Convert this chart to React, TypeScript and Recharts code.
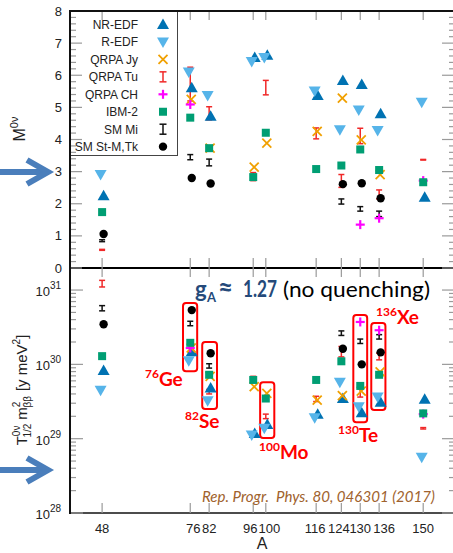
import React from 'react';
import { ScatterChart, Scatter, XAxis, YAxis, ErrorBar, ReferenceArea, Legend } from 'recharts';

// mass numbers of the nuclei on the x axis
const A_VALUES = [48, 76, 82, 96, 100, 116, 124, 130, 136, 150];

// upper panel: nuclear matrix elements M^0v
const NR_EDF_M = [2.25, 5.61, 4.72, 6.55, 6.62, 5.37, 5.84, 5.71, 4.8, 2.2];
const R_EDF_M = [2.91, 6.1, 5.37, 6.43, 6.55, 5.51, 4.3, 4.92, 4.28, 5.16];
const QRPA_JY_M = [null, 5.25, 3.73, 3.14, 3.89, 4.25, 5.29, 3.99, 2.91, null];
const QRPA_TU_M_LO = [0.55, 5.2, 4.61, 2.72, 5.39, 4.02, 2.51, 3.87, 2.15, 3.36];
const QRPA_TU_M_HI = [0.58, 6.25, 5.02, 2.97, 5.84, 4.36, 2.91, 4.35, 2.43, 3.38];
const QRPA_CH_M = [null, 5.09, null, null, null, null, null, 1.35, 1.55, 2.72];
const IBM2_M = [1.74, 4.68, 3.73, 2.83, 4.21, 3.08, 3.19, 3.69, 3.05, 2.67];
const SM_MI_M_LO = [0.82, 3.37, 3.18, null, null, null, 1.99, 1.77, 1.6, null];
const SM_MI_M_HI = [0.88, 3.53, 3.39, null, null, null, 2.15, 1.91, 1.77, null];
const SM_STM_M = [1.06, 2.8, 2.63, null, null, null, 2.61, 2.64, 2.17, null];

// lower panel: T1/2 * m_bb^2 [y meV^2]
const NR_EDF_T = [8.3e29, 1.48e30, 4.8e29, 1.17e29, 1.55e29, 2.14e29, 3.47e29, 2.24e29, 3.09e29, 3.39e29];
const R_EDF_T = [4.47e29, 1.12e30, 3.24e29, 1.12e29, 1.38e29, 1.91e29, 5.75e29, 2.69e29, 3.63e29, 5.62e28];
const QRPA_JY_T = [null, 1.66e30, 6.9e29, 5.0e29, 4.07e29, 3.31e29, 3.8e29, 4.37e29, 7.9e29, null];
const QRPA_TU_T_LO = [1.1e31, null, 4.0e29, 5.75e29, 1.86e29, 3.16e29, 1.26e30, 3.63e29, 1.15e30, 1.35e29];
const QRPA_TU_T_HI = [1.35e31, null, 4.6e29, 6.9e29, 2.14e29, 3.72e29, 1.74e30, 4.68e29, 1.41e30, 1.41e29];
const QRPA_CH_T = [null, 1.66e30, null, null, null, null, null, 3.72e30, 2.88e30, 2.14e29];
const IBM2_T = [1.29e30, 1.95e30, 7.24e29, 6.17e29, 3.47e29, 6.17e29, 1.1e30, 5.13e29, 7.24e29, 2.19e29];
const SM_MI_T_LO = [5.25e30, 3.31e30, 8.91e29, null, null, null, 2.45e30, 1.91e30, 2.19e30, null];
const SM_MI_T_HI = [6.17e30, 3.8e30, 1.02e30, null, null, null, 2.82e30, 2.19e30, 2.51e30, null];
const SM_STM_T = [3.47e30, 5.37e30, 1.41e30, null, null, null, 1.62e30, 1.0e30, 1.45e30, null];

// highlighted isotopes (boxes in the lower panel)
const BOX_A_RANGE = [[73.7, 78.2], [79.8, 84.5], [98.2, 102.7], [127.8, 132.2], [133.5, 138]];
const BOX_T_RANGE = [[8.1e29, 6.7e30], [2.5e29, 2.0e30], [1.02e29, 5.75e29], [1.66e29, 4.6e30], [2.43e29, 3.6e30]];

const X_DOMAIN = [37.8, 160.1];
const M_DOMAIN = [0, 8];
const T_DOMAIN = [1e28, 1.98e31];

const TICK_GRAY = '#9a9a9a';
const AXIS_COLOR = '#111';
const LABEL_COLOR = '#222';
const X_LABEL_DX: Record<number, number> = { 76: 3, 96: -3, 100: 3.5, 116: -1, 124: -2.5, 136: 5 };

// frame of the two stacked panels (pixels)
const PLOT_LEFT = 70;
const PLOT_TOP = 11;
const PLOT_MID = 268;
const PLOT_BOTTOM = 513;

const M_TICKS: number[] = [];
for (let i = 0; i <= 40; i++) M_TICKS.push(Math.round(i * 2) / 10);
const T_TICKS: number[] = [];
for (let e = 28; e <= 31; e++) {
  for (let m = 1; m <= 9; m++) {
    const v = m * Math.pow(10, e);
    if (v <= T_DOMAIN[1]) T_TICKS.push(v);
  }
}

const points = (vals: (number | null)[]) =>
  A_VALUES.flatMap((a, i) => (vals[i] == null ? [] : [{ x: a, y: vals[i] as number }]));

const ranges = (lo: (number | null)[], hi: (number | null)[]) =>
  A_VALUES.flatMap((a, i) => {
    if (lo[i] == null || hi[i] == null) return [];
    const l = lo[i] as number;
    const h = hi[i] as number;
    const mid = Math.sqrt(l * h);
    return [{ x: a, y: mid, err: [mid - l, h - mid] }];
  });

const SERIES = [
  { name: 'NR-EDF', color: '#0072b2', kind: 'up', dx: 1.5, top: points(NR_EDF_M), bottom: points(NR_EDF_T) },
  { name: 'R-EDF', color: '#56b4e9', kind: 'down', dx: -1.5, top: points(R_EDF_M), bottom: points(R_EDF_T) },
  { name: 'QRPA Jy', color: '#f0a000', kind: 'cross', dx: 1, top: points(QRPA_JY_M), bottom: points(QRPA_JY_T) },
  { name: 'QRPA Tu', color: '#f02828', kind: 'bar', dx: 0, top: ranges(QRPA_TU_M_LO, QRPA_TU_M_HI), bottom: ranges(QRPA_TU_T_LO, QRPA_TU_T_HI) },
  { name: 'QRPA CH', color: '#ff00ff', kind: 'plus', dx: 0, top: points(QRPA_CH_M), bottom: points(QRPA_CH_T) },
  { name: 'IBM-2', color: '#009e73', kind: 'square', dx: 0, top: points(IBM2_M), bottom: points(IBM2_T) },
  { name: 'SM Mi', color: '#111111', kind: 'bar', dx: 0, top: ranges(SM_MI_M_LO, SM_MI_M_HI), bottom: ranges(SM_MI_T_LO, SM_MI_T_HI) },
  { name: 'SM St-M,Tk', color: '#000000', kind: 'circle', dx: 1.5, top: points(SM_STM_M), bottom: points(SM_STM_T) },
];

const Marker = ({ kind, color, cx, cy }: { kind: string; color: string; cx: number; cy: number }) => {
  switch (kind) {
    case 'up':
      return <polygon points={`${cx - 6},${cy + 4.5} ${cx + 6},${cy + 4.5} ${cx},${cy - 6}`} fill={color} />;
    case 'down':
      return <polygon points={`${cx - 6},${cy - 4.5} ${cx + 6},${cy - 4.5} ${cx},${cy + 6}`} fill={color} />;
    case 'cross':
      return (
        <g stroke={color} strokeWidth={1.8}>
          <line x1={cx - 4.5} y1={cy - 4.5} x2={cx + 4.5} y2={cy + 4.5} />
          <line x1={cx - 4.5} y1={cy + 4.5} x2={cx + 4.5} y2={cy - 4.5} />
        </g>
      );
    case 'plus':
      return (
        <g stroke={color} strokeWidth={2.2}>
          <line x1={cx - 4.5} y1={cy} x2={cx + 4.5} y2={cy} />
          <line x1={cx} y1={cy - 4.5} x2={cx} y2={cy + 4.5} />
        </g>
      );
    case 'square':
      return <rect x={cx - 4} y={cy - 4} width={8} height={8} fill={color} />;
    case 'circle':
      return <circle cx={cx} cy={cy} r={4.2} fill={color} />;
    case 'bar':
      return (
        <g stroke={color} strokeWidth={1.5}>
          <line x1={cx} y1={cy - 5} x2={cx} y2={cy + 5} />
          <line x1={cx - 3.5} y1={cy - 5} x2={cx + 3.5} y2={cy - 5} />
          <line x1={cx - 3.5} y1={cy + 5} x2={cx + 3.5} y2={cy + 5} />
        </g>
      );
    default:
      return <g />;
  }
};

const shapeFor = (kind: string, color: string, dx: number) => (p: any) =>
  kind === 'bar' ? <g /> : <Marker kind={kind} color={color} cx={p.cx + dx} cy={p.cy} />;

const LegendBox = () => (
  <svg width={108} height={145} style={{ display: 'block' }}>
    <rect x={0.5} y={0.5} width={107} height={144} fill="none" stroke="#444" />
    {SERIES.map((s, i) => {
      const y = 13.5 + i * 17.45;
      return (
        <g key={s.name}>
          <text x={68} y={y + 4.3} textAnchor="end" fontSize={12} fill={LABEL_COLOR}>
            {s.name}
          </text>
          <Marker kind={s.kind} color={s.color} cx={93} cy={y} />
        </g>
      );
    })}
  </svg>
);

const isMajorLin = (v: number) => Math.abs(v - Math.round(v)) < 1e-6;
const isMajorLog = (v: number) => {
  const e = Math.log10(v);
  return Math.abs(e - Math.round(e)) < 1e-6;
};

const LinLeftTick = (p: any) => {
  const v = p.payload.value;
  const major = isMajorLin(v);
  return (
    <g>
      <line x1={p.x} x2={p.x + (major ? 12 : 6)} y1={p.y} y2={p.y} stroke={TICK_GRAY} strokeWidth={1.2} />
      {major && (
        <text x={p.x - 8} y={p.y + 4.5} textAnchor="end" fontSize={13} fill={LABEL_COLOR}>
          {Math.round(v)}
        </text>
      )}
    </g>
  );
};

const LinRightTick = (p: any) => {
  const major = isMajorLin(p.payload.value);
  return <line x1={p.x - (major ? 13 : 6)} x2={p.x} y1={p.y} y2={p.y} stroke={TICK_GRAY} strokeWidth={1.2} />;
};

const LogLeftTick = (p: any) => {
  const v = p.payload.value;
  const major = isMajorLog(v);
  return (
    <g>
      <line x1={p.x} x2={p.x + (major ? 13 : 6)} y1={p.y} y2={p.y} stroke={TICK_GRAY} strokeWidth={1.2} />
      {major && (
        <text x={p.x - 9} y={p.y + 6} textAnchor="end" fontSize={13} fill={LABEL_COLOR}>
          10
          <tspan fontSize={10} dy={-7}>
            {Math.round(Math.log10(v))}
          </tspan>
        </text>
      )}
    </g>
  );
};

const LogRightTick = (p: any) => {
  const major = isMajorLog(p.payload.value);
  return <line x1={p.x - (major ? 13 : 6)} x2={p.x} y1={p.y} y2={p.y} stroke={TICK_GRAY} strokeWidth={1.2} />;
};

// inward ticks at the bottom and the top of a panel of the given height
const makeXTick = (panelHeight: number, withLabel: boolean) => (p: any) => (
  <g>
    <line x1={p.x} x2={p.x} y1={p.y} y2={p.y - 10} stroke={TICK_GRAY} strokeWidth={1.2} />
    <line x1={p.x} x2={p.x} y1={p.y - panelHeight} y2={p.y - panelHeight + 9} stroke={TICK_GRAY} strokeWidth={1.2} />
    {withLabel && (
      <text x={p.x + (X_LABEL_DX[p.payload.value] || 0)} y={p.y + 20} textAnchor="middle" fontSize={13} fill={LABEL_COLOR}>
        {p.payload.value}
      </text>
    )}
  </g>
);

const RoundBox = (p: any) => (
  <rect x={p.x} y={p.y} width={p.width} height={p.height} rx={3} fill="none" stroke="#ff0000" strokeWidth={2} />
);

const axisLine = { stroke: AXIS_COLOR, strokeWidth: 1.5 };

const Arrow = ({ y }: { y: number }) => (
  <g stroke="#4a7ebb" strokeWidth={6} fill="none">
    <line x1={0} y1={y} x2={46} y2={y} />
    <polyline points={`27,${y - 12} 48,${y} 27,${y + 12}`} strokeLinejoin="miter" />
  </g>
);

const IsoLabel = ({ x, y, mass, sym }: { x: number; y: number; mass: string; sym: string }) => (
  <text x={x} y={y} fill="#ff0000" fontWeight="bold" fontFamily="Lato, 'Open Sans', sans-serif">
    <tspan fontSize={12} dy={-8}>
      {mass}
    </tspan>
    <tspan fontSize={19} dy={8}>
      {sym}
    </tspan>
  </text>
);

export default function App() {
  return (
    <div
      style={{
        position: 'absolute',
        left: 0,
        top: 0,
        width: 453,
        height: 553,
        overflow: 'hidden',
        background: '#fff',
        fontFamily: '"Liberation Sans", Arial, sans-serif',
      }}
    >
      {/* upper panel */}
      <div style={{ position: 'absolute', left: 0, top: 0 }}>
        <ScatterChart width={460} height={280} margin={{ top: 11, right: 4, bottom: 11, left: 0 }}>
          <XAxis xAxisId="b" type="number" dataKey="x" domain={X_DOMAIN} allowDataOverflow ticks={A_VALUES} interval={0}
            height={1} tickSize={0} tickMargin={0} tickLine={false} axisLine={{ stroke: '#000', strokeWidth: 2 }}
            tick={makeXTick(PLOT_MID - PLOT_TOP, false)} />
          <YAxis yAxisId="l" type="number" dataKey="y" domain={M_DOMAIN} allowDataOverflow ticks={M_TICKS} interval={0}
            width={70} tickSize={0} tickMargin={0} tickLine={false} axisLine={axisLine} tick={LinLeftTick} />
          <YAxis yAxisId="r" orientation="right" type="number" dataKey="y" domain={M_DOMAIN} allowDataOverflow ticks={M_TICKS}
            interval={0} width={1} tickSize={0} tickMargin={0} tickLine={false} axisLine={axisLine} tick={LinRightTick} />
          {SERIES.map((s) => (
            <Scatter key={s.name} name={s.name} data={s.top} xAxisId="b" yAxisId="l" fill={s.color}
              shape={shapeFor(s.kind, s.color, s.dx)} isAnimationActive={false}>
              {s.kind === 'bar' && (
                <ErrorBar dataKey="err" direction="y" width={3} stroke={s.color} strokeWidth={1.5} isAnimationActive={false} />
              )}
            </Scatter>
          ))}
          <Legend layout="vertical" align="center" verticalAlign="middle" width={108} height={145}
            wrapperStyle={{ left: 70, top: 11, width: 108, height: 145 }} content={<LegendBox />} />
        </ScatterChart>
      </div>

      {/* lower panel */}
      <div style={{ position: 'absolute', left: 0, top: 0 }}>
        <ScatterChart width={460} height={553} margin={{ top: 268, right: 4, bottom: 39, left: 0 }}>
          <XAxis xAxisId="b" type="number" dataKey="x" domain={X_DOMAIN} allowDataOverflow ticks={A_VALUES} interval={0}
            height={1} tickSize={0} tickMargin={0} tickLine={false} axisLine={axisLine}
            tick={makeXTick(PLOT_BOTTOM - PLOT_MID, true)} />
          <YAxis yAxisId="l" type="number" dataKey="y" scale="log" domain={T_DOMAIN} allowDataOverflow ticks={T_TICKS} interval={0}
            width={70} tickSize={0} tickMargin={0} tickLine={false} axisLine={axisLine} tick={LogLeftTick} />
          <YAxis yAxisId="r" orientation="right" type="number" dataKey="y" scale="log" domain={T_DOMAIN} allowDataOverflow
            ticks={T_TICKS} interval={0} width={1} tickSize={0} tickMargin={0} tickLine={false} axisLine={axisLine} tick={LogRightTick} />
          {SERIES.map((s) => (
            <Scatter key={s.name} name={s.name} data={s.bottom} xAxisId="b" yAxisId="l" fill={s.color}
              shape={shapeFor(s.kind, s.color, s.dx)} isAnimationActive={false}>
              {s.kind === 'bar' && (
                <ErrorBar dataKey="err" direction="y" width={3} stroke={s.color} strokeWidth={1.5} isAnimationActive={false} />
              )}
            </Scatter>
          ))}
          {BOX_A_RANGE.map((r, i) => (
            <ReferenceArea key={i} xAxisId="b" yAxisId="l" x1={r[0]} x2={r[1]} y1={BOX_T_RANGE[i][0]} y2={BOX_T_RANGE[i][1]}
              shape={RoundBox} ifOverflow="visible" />
          ))}
        </ScatterChart>
      </div>

      {/* frame and annotations */}
      <svg width={453} height={553} style={{ position: 'absolute', left: 0, top: 0, pointerEvents: 'none' }}>
        <rect x={PLOT_LEFT - 1} y={PLOT_TOP - 1} width={2} height={PLOT_BOTTOM - PLOT_TOP + 2} fill={AXIS_COLOR} />
        <rect x={PLOT_LEFT - 1} y={PLOT_TOP - 1} width={453 - PLOT_LEFT + 1} height={2} fill={AXIS_COLOR} />
        <Arrow y={172} />
        <Arrow y={470} />
        <text transform="translate(25,129) rotate(-90)" textAnchor="middle" fontSize={16} fill={LABEL_COLOR}>
          M
          <tspan fontSize={11} dy={-7}>
            0ν
          </tspan>
        </text>
        <text transform="translate(27,390) rotate(-90)" textAnchor="middle" fontSize={15} fill={LABEL_COLOR}>
          T
          <tspan fontSize={10} dy={-7}>0ν</tspan>
          <tspan fontSize={10} dx={-12} dy={11}>1/2</tspan>
          <tspan fontSize={15} dx={4} dy={-4}>m</tspan>
          <tspan fontSize={10} dy={-7}>2</tspan>
          <tspan fontSize={10} dx={-6} dy={11}>ββ</tspan>
          <tspan fontSize={15} dx={5} dy={-4}>[y meV</tspan>
          <tspan fontSize={10} dy={-7}>2</tspan>
          <tspan fontSize={15} dy={7}>]</tspan>
        </text>
        <text x={262} y={549} textAnchor="middle" fontSize={16} fill={LABEL_COLOR}>
          A
        </text>
        <text y={297} fontFamily="Lato, 'Open Sans', sans-serif" fontSize={22}>
          <tspan x={195} fill="#254a7a" fontWeight="bold">g</tspan>
          <tspan x={207} dy={5} fontSize={13} fill="#254a7a" fontWeight="bold">A</tspan>
          <tspan x={218} dy={-5} fontSize={26} fill="#254a7a" fontWeight="bold">≈</tspan>
          <tspan x={243} fill="#254a7a" fontWeight="bold" textLength={34} lengthAdjust="spacingAndGlyphs">1.27</tspan>
          <tspan x={283} fill="#000" textLength={147} lengthAdjust="spacingAndGlyphs">(no quenching)</tspan>
        </text>
        <text x={202} y={502} fontFamily="Lato, 'Open Sans', sans-serif" fontStyle="italic" fontSize={14.5} fill="#a0622d"
          textLength={233} lengthAdjust="spacingAndGlyphs" style={{ whiteSpace: 'pre' }}>
          {'Rep. Progr.  Phys. 80, 046301 (2017)'}
        </text>
        <IsoLabel x={145} y={386} mass="76" sym="Ge" />
        <IsoLabel x={185} y={428} mass="82" sym="Se" />
        <IsoLabel x={259} y={459} mass="100" sym="Mo" />
        <IsoLabel x={338} y={442} mass="130" sym="Te" />
        <IsoLabel x={376} y={324} mass="136" sym="Xe" />
      </svg>
    </div>
  );
}
